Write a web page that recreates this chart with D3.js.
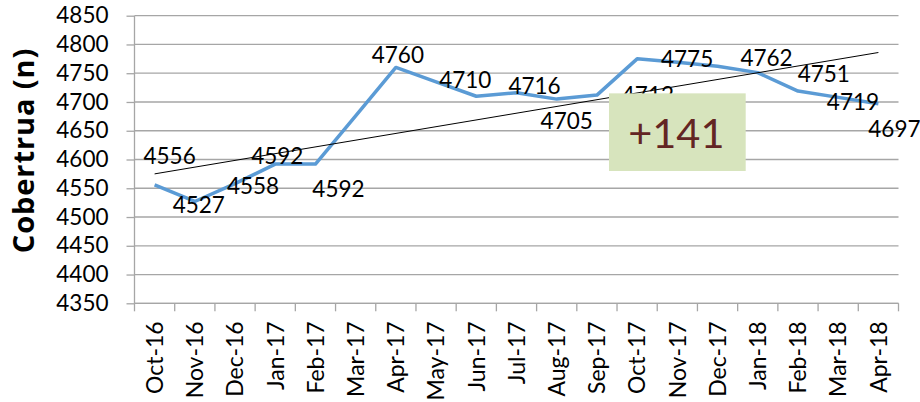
<!DOCTYPE html>
<html>
<head>
<meta charset="utf-8">
<script src="https://cdn.jsdelivr.net/npm/d3@7"></script>
<style>
  html, body { margin: 0; padding: 0; background: #fff; }
  svg { display: block; font-family: Lato, "Open Sans", sans-serif; }
  .tick text { fill: #000; }
</style>
</head>
<body>
<svg id="chart"></svg>
<script>
// months on the x axis
const months = ['Oct-16', 'Nov-16', 'Dec-16', 'Jan-17', 'Feb-17', 'Mar-17', 'Apr-17',
    'May-17', 'Jun-17', 'Jul-17', 'Aug-17', 'Sep-17', 'Oct-17', 'Nov-17',
    'Dec-17', 'Jan-18', 'Feb-18', 'Mar-18', 'Apr-18'];

// coverage per month
const coverage = [4556, 4527, 4558, 4592, 4592, 4676, 4760,
    4735, 4710, 4716, 4705, 4712, 4775, 4769,
    4762, 4751, 4719, 4708, 4697];

// months that carry a value label in the original
const labelledMonths = ['Oct-16', 'Nov-16', 'Dec-16', 'Jan-17', 'Feb-17', 'Apr-17',
    'Jun-17', 'Jul-17', 'Aug-17', 'Sep-17', 'Oct-17', 'Dec-17', 'Jan-18', 'Feb-18', 'Apr-18'];

// trend line values at first and last month
const trendValues = [4575, 4786];

const yTicks = [4350, 4400, 4450, 4500, 4550, 4600, 4650, 4700, 4750, 4800, 4850];

// label placement relative to its point (layout only)
const labelNudge = {
    'Oct-16': [15, -21], 'Nov-16': [4, 12], 'Dec-16': [18, 10], 'Jan-17': [2, 0],
    'Feb-17': [23, 33], 'Apr-17': [2, -4], 'Jun-17': [-11, -8], 'Jul-17': [18, 1],
    'Aug-17': [10, 30], 'Sep-17': [51, 8], 'Oct-17': [50, 8], 'Dec-17': [49, 0],
    'Jan-18': [66, 9], 'Feb-18': [55, 19], 'Apr-18': [16, 33]
};

const data = months.map((m, i) => ({ month: m, value: coverage[i] }));

const W = 920, H = 402;
const margin = { top: 15.7, right: 21.5, bottom: 98.7, left: 134.5 };
const width = W - margin.left - margin.right;
const height = H - margin.top - margin.bottom;

const svg = d3.select('#chart').attr('width', W).attr('height', H);
const chart = svg.append('g')
    .attr('transform', `translate(${margin.left}, ${margin.top})`);

const xScale = d3.scaleBand().domain(months).range([0, width]);
const xMid = m => xScale(m) + xScale.bandwidth() / 2;
const yScale = d3.scaleLinear().domain([4350, 4850]).range([height, 0]);

const gridColor = '#a6a6a6';

// horizontal gridlines
chart.append('g').selectAll('line')
    .data(yTicks)
    .join('line')
    .attr('x1', 0).attr('x2', width)
    .attr('y1', d => yScale(d)).attr('y2', d => yScale(d))
    .attr('stroke', gridColor)
    .attr('stroke-width', 1.3);

// y axis
const yAxisG = chart.append('g')
    .call(d3.axisLeft(yScale).tickValues(yTicks).tickSize(8).tickPadding(18).tickFormat(d3.format('d')));
yAxisG.selectAll('line, path').attr('stroke', gridColor).attr('stroke-width', 1.3);
yAxisG.select('.domain').attr('d', `M0,0V${height}`);
yAxisG.selectAll('text').attr('font-size', 22.5).attr('font-family', 'Lato');

// x axis: labels at category centres, ticks on category boundaries
const xAxisG = chart.append('g')
    .attr('transform', `translate(0, ${height})`)
    .call(d3.axisBottom(xScale).tickSize(0).tickPadding(0));
xAxisG.select('.domain').attr('d', `M0,0H${width}`).attr('stroke', gridColor).attr('stroke-width', 1.3);
xAxisG.selectAll('.tick text')
    .attr('transform', 'rotate(-90)')
    .attr('x', -18)
    .attr('y', 0)
    .attr('dy', '0.36em')
    .attr('font-size', 23)
    .attr('font-family', 'Lato')
    .style('text-anchor', 'end');
xAxisG.append('g').selectAll('line')
    .data(d3.range(months.length + 1))
    .join('line')
    .attr('x1', i => i * xScale.step()).attr('x2', i => i * xScale.step())
    .attr('y1', 0).attr('y2', 8)
    .attr('stroke', gridColor)
    .attr('stroke-width', 1.3);

// y axis title
svg.append('text')
    .attr('transform', 'translate(34, 150.5) rotate(-90)')
    .attr('text-anchor', 'middle')
    .attr('font-family', '"Open Sans"')
    .attr('font-weight', 'bold')
    .attr('font-size', 29)
    .attr('letter-spacing', 0.9)
    .attr('fill', '#000')
    .text('Cobertrua (n)');

// coverage line
const line = d3.line()
    .x(d => xMid(d.month))
    .y(d => yScale(d.value));

chart.append('path')
    .datum(data)
    .attr('d', line)
    .attr('fill', 'none')
    .attr('stroke', '#5b9bd5')
    .attr('stroke-width', 3.5)
    .attr('stroke-linejoin', 'round');

// trend line
const trend = [
    { month: months[0], value: trendValues[0] },
    { month: months[months.length - 1], value: trendValues[1] }
];
chart.append('path')
    .datum(trend)
    .attr('d', line)
    .attr('fill', 'none')
    .attr('stroke', '#000')
    .attr('stroke-width', 1);

// value labels
chart.append('g').selectAll('text')
    .data(data.filter(d => labelledMonths.includes(d.month)))
    .join('text')
    .attr('x', d => xMid(d.month) + labelNudge[d.month][0])
    .attr('y', d => yScale(d.value) + labelNudge[d.month][1])
    .attr('text-anchor', 'middle')
    .attr('font-size', 22.5)
    .attr('fill', '#000')
    .text(d => d.value);

// change annotation box
const step = xScale.step();
const boxX = xScale('Sep-17') + 0.8 * step;
const boxY = yScale(4715);
const boxW = 3.4 * step;
const boxH = yScale(4580) - boxY;
const change = coverage[coverage.length - 1] - coverage[0];

const note = chart.append('g');
note.append('rect')
    .attr('x', boxX).attr('y', boxY)
    .attr('width', boxW).attr('height', boxH)
    .attr('fill', '#d7e4bd');
note.append('text')
    .attr('x', boxX + boxW / 2 - 1)
    .attr('y', boxY + 55)
    .attr('text-anchor', 'middle')
    .attr('font-size', 41.5)
    .attr('fill', '#632523')
    .text((change > 0 ? '+' : '') + change);
</script>
</body>
</html>
